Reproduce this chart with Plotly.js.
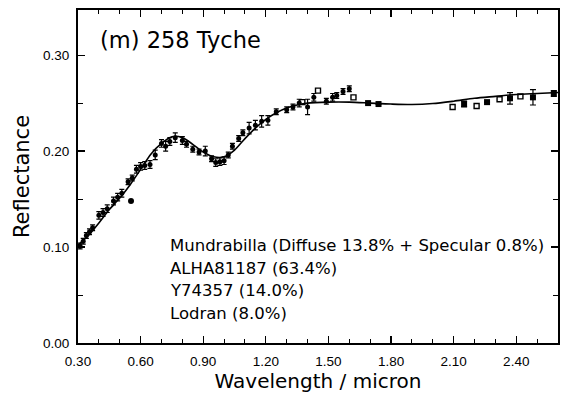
<!DOCTYPE html>
<html>
<head>
<meta charset="utf-8">
<script src="https://cdn.plot.ly/plotly-3.0.1.min.js"></script>
<style>html,body{margin:0;padding:0;background:#fff;}#chart{width:566px;height:397px;}</style>
</head>
<body>
<div id="chart"></div>
<script>
// Model fit curve
const modelX = [0.30,0.35,0.40,0.45,0.50,0.55,0.60,0.65,0.70,0.75,0.80,0.85,0.90,0.95,1.00,1.05,1.10,1.15,1.20,1.25,1.30,1.35,1.40,1.50,1.60,1.70,1.80,1.90,2.00,2.10,2.20,2.30,2.40,2.50,2.60];
const modelY = [0.102,0.112,0.125,0.139,0.151,0.165,0.181,0.197,0.208,0.215,0.214,0.207,0.199,0.194,0.194,0.201,0.213,0.224,0.233,0.240,0.245,0.248,0.250,0.251,0.251,0.250,0.249,0.2485,0.2495,0.252,0.255,0.257,0.259,0.260,0.261];

// Spectrum points (filled, with error bars)
const specX = [0.31,0.325,0.34,0.355,0.37,0.40,0.42,0.44,0.47,0.49,0.51,0.54,0.56,0.58,0.60,0.62,0.645,0.67,0.70,0.72,0.74,0.766,0.80,0.82,0.85,0.88,0.91,0.94,0.96,0.98,1.00,1.02,1.04,1.07,1.09,1.12,1.15,1.18,1.21,1.25,1.30,1.33,1.36,1.40,1.43,1.49,1.52,1.54,1.57,1.60];
const specY = [0.101,0.106,0.112,0.116,0.120,0.133,0.136,0.140,0.148,0.152,0.156,0.168,0.172,0.181,0.184,0.185,0.186,0.196,0.208,0.205,0.210,0.214,0.211,0.207,0.202,0.199,0.200,0.192,0.188,0.189,0.190,0.196,0.205,0.213,0.219,0.224,0.227,0.231,0.232,0.241,0.243,0.246,0.250,0.246,0.256,0.252,0.256,0.258,0.262,0.265];
const specErr = [0.003,0.003,0.003,0.003,0.003,0.004,0.004,0.004,0.004,0.004,0.004,0.003,0.003,0.004,0.004,0.004,0.004,0.005,0.004,0.005,0.004,0.005,0.004,0.003,0.003,0.003,0.005,0.003,0.004,0.004,0.004,0.003,0.003,0.003,0.003,0.006,0.005,0.006,0.005,0.003,0.003,0.003,0.004,0.008,0.004,0.003,0.004,0.003,0.003,0.003];

// Outlier point
const outX = [0.554];
const outY = [0.148];

// Filled squares (52-colour)
const sqX = [1.69,1.74,2.15,2.26,2.37,2.48,2.58];
const sqY = [0.250,0.249,0.249,0.251,0.255,0.256,0.260];
const sqErr = [0,0,0.003,0,0.006,0.008,0.003];

// Open squares
const osX = [1.375,1.45,1.62,2.095,2.21,2.32,2.42];
const osY = [0.251,0.263,0.256,0.246,0.247,0.254,0.257];

const titleText = "(m) 258 Tyche";
const mixLines = ["Mundrabilla (Diffuse 13.8% + Specular 0.8%)","ALHA81187 (63.4%)","Y74357 (14.0%)","Lodran (8.0%)"];
const mixY = [0.102,0.078,0.055,0.031];

const traces = [
  {x: modelX, y: modelY, mode: 'lines', line: {color: '#000', width: 1.6, shape: 'spline', smoothing: 0.8}, hoverinfo: 'skip'},
  {x: specX, y: specY, mode: 'markers', marker: {symbol: 'circle', size: 5, color: '#000'},
   error_y: {type: 'data', array: specErr, visible: true, color: '#000', thickness: 1.2, width: 2.5}},
  {x: outX, y: outY, mode: 'markers', marker: {symbol: 'circle', size: 6, color: '#000'}},
  {x: sqX, y: sqY, mode: 'markers', marker: {symbol: 'square', size: 6, color: '#000'},
   error_y: {type: 'data', array: sqErr, visible: true, color: '#000', thickness: 1.2, width: 3}},
  {x: osX, y: osY, mode: 'markers', marker: {symbol: 'square-open', size: 5, color: '#000', line: {width: 1.4, color: '#000'}}}
];

const annotations = [
  {x: 0, y: 1, xref: 'paper', yref: 'paper', xanchor: 'left', yanchor: 'top', xshift: 20, yshift: -15,
   text: titleText, showarrow: false, font: {family: 'DejaVu Sans', size: 22.5, color: '#000'}}
];
mixLines.forEach((t, i) => {
  annotations.push({x: 0.732, y: mixY[i], xref: 'x', yref: 'y', xanchor: 'left', yanchor: 'middle',
    text: t, showarrow: false, font: {family: 'DejaVu Sans', size: 16.5, color: '#000'}});
});

const layout = {
  width: 566, height: 397,
  margin: {l: 78, r: 8, t: 10, b: 54},
  paper_bgcolor: '#fff', plot_bgcolor: '#fff',
  showlegend: false,
  font: {family: 'Liberation Sans', color: '#000'},
  xaxis: {
    range: [0.30, 2.60], tick0: 0.30, dtick: 0.3, tickformat: '.2f',
    ticks: 'inside', ticklen: 7, tickwidth: 1.2, tickcolor: '#000',
    minor: {dtick: 0.1, tick0: 0.30, ticks: 'inside', ticklen: 4, tickwidth: 1, tickcolor: '#000'},
    showline: true, linecolor: '#000', linewidth: 2, mirror: 'ticks',
    showgrid: false, zeroline: false, ticklabelstandoff: 5,
    tickfont: {family: 'Liberation Sans', size: 13.5, color: '#000'},
    title: {text: 'Wavelength / micron', font: {family: 'DejaVu Sans', size: 20, color: '#000'}, standoff: 2}
  },
  yaxis: {
    range: [0, 0.347], tick0: 0, dtick: 0.1, tickformat: '.2f',
    ticks: 'inside', ticklen: 7, tickwidth: 1.2, tickcolor: '#000',
    minor: {dtick: 0.05, ticks: 'inside', ticklen: 5, tickwidth: 1, tickcolor: '#000'},
    showline: true, linecolor: '#000', linewidth: 2, mirror: 'ticks',
    showgrid: false, zeroline: false, ticklabelstandoff: 4,
    tickfont: {family: 'Liberation Sans', size: 13.5, color: '#000'},
    title: {text: 'Reflectance', font: {family: 'DejaVu Sans', size: 21, color: '#000'}, standoff: 8}
  },
  annotations: annotations
};

Plotly.newPlot('chart', traces, layout, {displayModeBar: false, staticPlot: true});
</script>
</body>
</html>
